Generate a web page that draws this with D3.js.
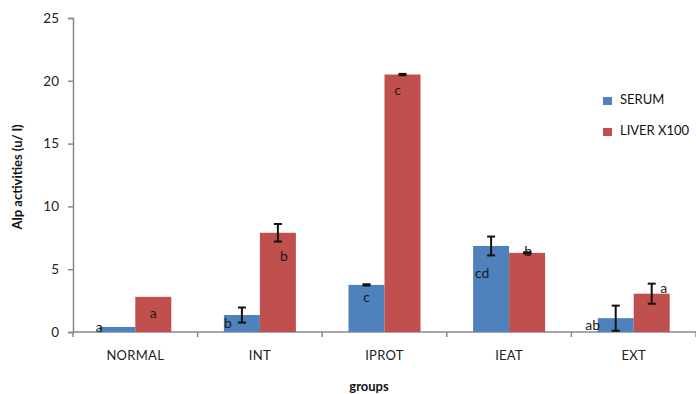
<!DOCTYPE html>
<html>
<head>
<meta charset="utf-8">
<script src="https://cdn.jsdelivr.net/npm/d3@7"></script>
<style>
  html, body { margin: 0; padding: 0; background: #fff; }
  svg { display: block; font-family: Lato, "Liberation Sans", sans-serif; }
</style>
</head>
<body>
<svg id="chart" width="696" height="394"></svg>
<script>
// Groups and the two measured series (mean ± error)
const groups = ["NORMAL", "INT", "IPROT", "IEAT", "EXT"];
const seriesNames = ["SERUM", "LIVER X100"];
const serumValues = [0.4, 1.35, 3.75, 6.85, 1.1];
const serumErrors = [0, 0.6, 0.05, 0.75, 1.0];
const liverValues = [2.8, 7.9, 20.5, 6.3, 3.05];
const liverErrors = [0, 0.7, 0.05, 0.05, 0.8];
// Significance letters for each bar
const serumLetters = ["a", "b", "c", "cd", "ab"];
const liverLetters = ["a", "b", "c", "b", "a"];
const yTicks = [0, 5, 10, 15, 20, 25];

const colors = ["#4F81BD", "#C0504D"];

const svg = d3.select("#chart");
const plotLeft = 73, plotRight = 696, plotTop = 18, plotBottom = 332;

const x = d3.scaleBand().domain(groups).range([plotLeft, plotRight]).padding(0);
const y = d3.scaleLinear().domain([0, 25]).range([plotBottom, plotTop]);
const barW = 36;

// Y axis
const yAxis = svg.append("g").attr("transform", `translate(${plotLeft},0)`)
  .call(d3.axisLeft(y).tickValues(yTicks).tickSize(5).tickPadding(9));
yAxis.select(".domain").attr("stroke", "#888").attr("stroke-width", 1.5);
yAxis.selectAll(".tick line").attr("stroke", "#888").attr("stroke-width", 1.5);
yAxis.selectAll("text").attr("font-size", 13.5).attr("fill", "#222")
  .attr("font-family", "Lato, 'Liberation Sans', sans-serif");

// X axis with ticks at the category boundaries
const xAxisG = svg.append("g").attr("transform", `translate(0,${plotBottom})`);
xAxisG.append("line").attr("x1", plotLeft).attr("x2", plotRight)
  .attr("stroke", "#888").attr("stroke-width", 1.5);
const boundaries = groups.map(g => x(g)).concat([plotRight]);
xAxisG.selectAll("line.bt").data(boundaries).join("line").attr("class", "bt")
  .attr("x1", d => d).attr("x2", d => d).attr("y1", 0).attr("y2", 5)
  .attr("stroke", "#888").attr("stroke-width", 1.5);
xAxisG.selectAll("text").data(groups).join("text")
  .attr("x", d => x(d) + x.bandwidth() / 2).attr("y", 28)
  .attr("text-anchor", "middle").attr("font-size", 13).attr("fill", "#222")
  .attr("letter-spacing", 0.3)
  .text(d => d);

// Bars
const series = [
  { vals: serumValues, errs: serumErrors, letters: serumLetters, offset: -barW },
  { vals: liverValues, errs: liverErrors, letters: liverLetters, offset: 0 }
];

series.forEach((s, si) => {
  const bx = i => x(groups[i]) + x.bandwidth() / 2 + s.offset;
  svg.append("g").selectAll("rect").data(s.vals).join("rect")
    .attr("x", (d, i) => bx(i))
    .attr("y", d => y(d))
    .attr("width", barW)
    .attr("height", d => y(0) - y(d))
    .attr("fill", colors[si]);
});

// Error bars
series.forEach(s => {
  const g = svg.append("g").attr("stroke", "#111").attr("stroke-width", 2);
  s.vals.forEach((v, i) => {
    const e = s.errs[i];
    if (!e) return;
    const mx = x(groups[i]) + x.bandwidth() / 2 + s.offset + barW / 2;
    g.append("line").attr("x1", mx).attr("x2", mx).attr("y1", y(v + e)).attr("y2", y(v - e));
    g.append("line").attr("x1", mx - 4).attr("x2", mx + 4).attr("y1", y(v + e)).attr("y2", y(v + e));
    g.append("line").attr("x1", mx - 4).attr("x2", mx + 4).attr("y1", y(v - e)).attr("y2", y(v - e));
  });
});

// Significance letters (offset from bar centre, and px below the bar top)
const letterPos = [
  [[-18, 1], [0, 18]],
  [[-14, 9], [6, 25]],
  [[0, 14], [-5, 17]],
  [[-9, 28], [1, 0]],
  [[-23, 8], [12, -4]]
];
series.forEach((s, si) => {
  s.letters.forEach((t, i) => {
    const mx = x(groups[i]) + x.bandwidth() / 2 + s.offset + barW / 2;
    const p = letterPos[i][si];
    svg.append("text")
      .attr("x", mx + p[0]).attr("y", y(s.vals[i]) + p[1])
      .attr("text-anchor", "middle").attr("dominant-baseline", "middle")
      .attr("font-size", 14).attr("fill", "#1a1a1a")
      .text(t);
  });
});

// Axis titles
svg.append("text")
  .attr("transform", `translate(22,${(plotTop + plotBottom) / 2 + 2}) rotate(-90)`)
  .attr("text-anchor", "middle").attr("font-size", 13).attr("font-weight", "bold")
  .attr("fill", "#111").text("Alp activities (u/ l)");
svg.append("text")
  .attr("x", 369).attr("y", 391).attr("text-anchor", "middle")
  .attr("font-size", 13).attr("font-weight", "bold").attr("fill", "#111")
  .text("groups");

// Legend
const legend = svg.append("g").attr("transform", "translate(603,97)");
seriesNames.forEach((n, i) => {
  const row = legend.append("g").attr("transform", `translate(0,${i * 31})`);
  row.append("rect").attr("width", 9).attr("height", 8).attr("fill", colors[i]);
  row.append("text").attr("x", 17).attr("y", 4).attr("dominant-baseline", "middle")
    .attr("font-size", 13).attr("fill", "#111").text(n);
});
</script>
</body>
</html>
